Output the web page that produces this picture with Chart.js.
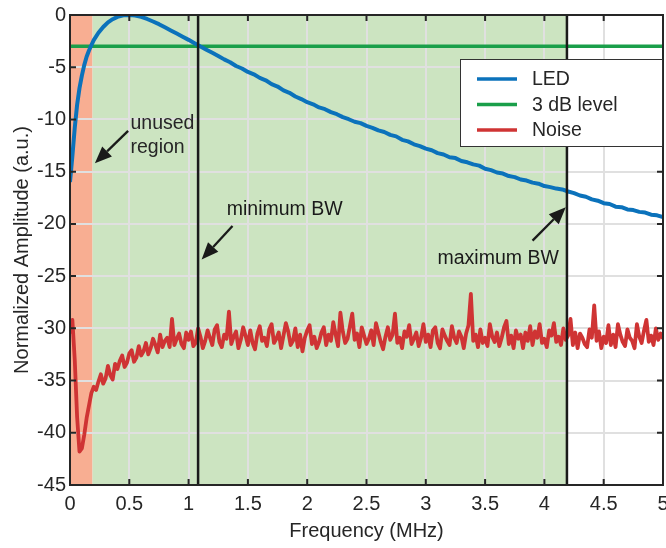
<!DOCTYPE html>
<html>
<head>
<meta charset="utf-8">
<script src="https://cdn.jsdelivr.net/npm/chart.js@4.4.0/dist/chart.umd.min.js"></script>
<style>
  html, body { margin: 0; padding: 0; background: #fff; }
  #wrap { width: 666px; height: 548px; }
</style>
</head>
<body>
<div id="wrap"><canvas id="myChart" width="666" height="548"></canvas></div>
<script>
// LED response (normalized, dB)
const ledFreq = [0, 0.02, 0.04, 0.06, 0.08, 0.10, 0.12, 0.14, 0.16, 0.18, 0.20, 0.24, 0.28, 0.32, 0.36, 0.40, 0.45, 0.50,
  0.55, 0.60, 0.65, 0.70, 0.75, 0.80, 0.85, 0.90, 0.95, 1.00, 1.05, 1.10, 1.15, 1.20, 1.25, 1.30, 1.35, 1.40, 1.45, 1.50,
  1.55, 1.60, 1.65, 1.70, 1.75, 1.80, 1.85, 1.90, 1.95, 2.00, 2.05, 2.10, 2.15, 2.20, 2.25, 2.30, 2.35, 2.40, 2.45, 2.50,
  2.55, 2.60, 2.65, 2.70, 2.75, 2.80, 2.85, 2.90, 2.95, 3.00, 3.05, 3.10, 3.15, 3.20, 3.25, 3.30, 3.35, 3.40, 3.45, 3.50,
  3.55, 3.60, 3.65, 3.70, 3.75, 3.80, 3.85, 3.90, 3.95, 4.00, 4.05, 4.10, 4.15, 4.20, 4.25, 4.30, 4.35, 4.40, 4.45, 4.50,
  4.55, 4.60, 4.65, 4.70, 4.75, 4.80, 4.85, 4.90, 4.95, 5.00];
const ledAmp = [-16.0, -13.5, -10.8, -8.6, -7.0, -5.8, -4.8, -4.0, -3.4, -2.9, -2.4, -1.7, -1.15, -0.7, -0.4, -0.18, -0.03, 0,
  -0.05, -0.18, -0.38, -0.62, -0.88, -1.18, -1.48, -1.78, -2.08, -2.38, -2.70, -3.02, -3.32, -3.62, -3.92, -4.25, -4.52, -4.88, -5.12, -5.45,
  -5.68, -6.02, -6.25, -6.62, -6.85, -7.22, -7.45, -7.80, -8.05, -8.35, -8.55, -8.85, -9.02, -9.30, -9.50, -9.78, -9.98, -10.22, -10.35, -10.62,
  -10.80, -11.05, -11.20, -11.48, -11.62, -11.95, -12.10, -12.38, -12.55, -12.80, -12.95, -13.22, -13.35, -13.62, -13.70, -13.98, -14.10, -14.30, -14.42, -14.72,
  -14.85, -15.08, -15.18, -15.42, -15.52, -15.75, -15.85, -16.05, -16.15, -16.38, -16.48, -16.62, -16.70, -16.90, -17.05, -17.28, -17.40, -17.65, -17.78, -18.02,
  -18.10, -18.35, -18.40, -18.62, -18.68, -18.85, -18.92, -19.12, -19.18, -19.35];

// noise floor, one sample every 0.02 MHz from 0 to 5 MHz
const noiseStep = 0.02;
const noiseAmp = [
  -30.5, -29.2, -33.0, -38.5, -41.8, -41.5, -40.2, -38.6, -37.4, -36.2,
  -35.6, -35.9, -35.1, -34.4, -35.3, -34.8, -33.6, -34.5, -34.9, -33.4,
  -33.9, -33.1, -32.6, -33.7, -33.3, -32.4, -32.1, -33.2, -32.8, -31.7,
  -32.6, -32.2, -31.4, -32.5, -31.9, -31.0, -31.6, -32.3, -30.6, -31.8,
  -31.2, -30.9, -31.8, -29.1, -31.6, -31.0, -30.5, -31.5, -31.9, -30.4,
  -31.1, -30.3, -31.7, -31.4, -30.0, -30.8, -31.9, -31.2, -30.2, -30.9,
  -31.6, -30.1, -29.7, -31.3, -31.8, -30.6, -31.0, -28.4, -31.5, -30.8,
  -30.3, -31.9, -31.1, -29.9, -30.7, -31.6, -30.2, -31.4, -32.0, -30.5,
  -29.8, -31.2, -30.9, -31.7, -30.1, -29.6, -31.4, -31.0, -30.4, -31.9,
  -30.7, -29.5, -30.3, -31.6, -31.2, -30.0, -31.8, -30.6, -32.2, -30.9,
  -30.2, -29.7, -31.5, -30.8, -31.9, -31.3, -30.4, -29.9, -31.6, -30.6,
  -31.2, -29.4, -30.6, -31.7, -28.5, -30.3, -31.4, -31.0, -29.8, -28.6,
  -31.1, -30.5, -31.8, -29.9, -30.7, -31.5, -31.0, -30.2, -31.6, -29.5,
  -30.4, -31.3, -32.0, -30.8, -29.9, -31.1, -30.6, -28.6, -31.4, -30.9,
  -31.9, -30.3, -30.8, -29.7, -31.5, -31.0, -30.4, -31.7, -30.9, -29.6,
  -31.3, -30.6, -31.8, -30.2, -29.9, -31.4, -31.9, -30.1, -30.7, -31.2,
  -31.6, -29.8, -30.9, -31.4, -30.3, -30.8, -31.9, -30.5, -29.7, -26.7,
  -31.2, -30.6, -31.8, -30.1, -31.4, -30.9, -31.7, -29.6, -30.8, -31.3,
  -30.4, -31.7, -30.9, -29.9, -29.3, -31.5, -30.7, -31.9, -30.2, -31.0,
  -30.6, -31.9, -30.4, -31.2, -29.8, -31.6, -30.3, -30.9, -29.6, -31.4,
  -31.0, -31.8, -30.2, -30.7, -29.5, -31.3, -30.8, -31.6, -30.0, -31.1,
  -30.7, -29.1, -31.6, -30.4, -31.9, -30.5, -30.9, -31.5, -31.8, -30.1,
  -30.9, -27.8, -31.2, -30.3, -31.9, -30.8, -31.4, -29.7, -31.6, -30.6,
  -31.8, -29.6, -30.6, -31.3, -31.7, -30.1, -30.9, -31.2, -31.9, -29.6,
  -30.8, -31.4, -30.2, -29.2, -31.3, -30.7, -31.6, -30.0, -31.1, -30.5,
  -31.0];

const levelFreq = [0, 5];
const levelAmp = [-3, -3];

const unusedEnd = 0.19;   // MHz
const minBW = 1.08;       // MHz
const maxBW = 4.19;       // MHz

const seriesNames = ['LED', '3 dB level', 'Noise'];
const seriesColors = ['#0b72bb', '#1a9f4a', '#cf3434'];

const FONT = "'Liberation Sans', Arial, Helvetica, sans-serif";
const INK = '#262626';

function pts(xs, ys) { return ys.map((y, i) => ({ x: xs[i], y: y })); }
const noisePts = noiseAmp.map((y, i) => ({ x: +(i * noiseStep).toFixed(2), y: y }));

const backdrop = {
  id: 'backdrop',
  beforeDraw(chart) {
    const { ctx, chartArea: a, scales: { x } } = chart;
    ctx.save();
    ctx.fillStyle = '#f8ae92';
    ctx.fillRect(a.left, a.top, x.getPixelForValue(unusedEnd) - a.left, a.bottom - a.top);
    ctx.fillStyle = '#cce4c1';
    ctx.fillRect(x.getPixelForValue(unusedEnd), a.top, x.getPixelForValue(maxBW) - x.getPixelForValue(unusedEnd), a.bottom - a.top);
    ctx.restore();
  }
};

function arrow(ctx, x1, y1, x2, y2) {
  const ang = Math.atan2(y2 - y1, x2 - x1);
  const hl = 17, hw = 7;
  const bx = x2 - hl * Math.cos(ang), by = y2 - hl * Math.sin(ang);
  ctx.beginPath();
  ctx.moveTo(x1, y1);
  ctx.lineTo(bx, by);
  ctx.lineWidth = 2.3;
  ctx.strokeStyle = '#1a1a1a';
  ctx.stroke();
  ctx.beginPath();
  ctx.moveTo(x2, y2);
  ctx.lineTo(bx + hw * Math.sin(ang), by - hw * Math.cos(ang));
  ctx.lineTo(bx - hw * Math.sin(ang), by + hw * Math.cos(ang));
  ctx.closePath();
  ctx.fillStyle = '#1a1a1a';
  ctx.fill();
}

const overlay = {
  id: 'overlay',
  afterDatasetsDraw(chart) {
    const { ctx, chartArea: a, scales: { x, y } } = chart;
    ctx.save();
    // bandwidth limits
    ctx.strokeStyle = '#1a1a1a';
    ctx.lineWidth = 2.5;
    [minBW, maxBW].forEach(f => {
      const px = x.getPixelForValue(f);
      ctx.beginPath(); ctx.moveTo(px, a.top); ctx.lineTo(px, a.bottom); ctx.stroke();
    });

    // frame + inward ticks
    ctx.strokeStyle = INK;
    ctx.lineWidth = 2;
    ctx.strokeRect(a.left, a.top, a.right - a.left, a.bottom - a.top);
    x.ticks.forEach(t => {
      const px = x.getPixelForValue(t.value);
      ctx.beginPath();
      ctx.moveTo(px, a.bottom); ctx.lineTo(px, a.bottom - 6);
      ctx.moveTo(px, a.top); ctx.lineTo(px, a.top + 6);
      ctx.stroke();
    });
    y.ticks.forEach(t => {
      const py = y.getPixelForValue(t.value);
      ctx.beginPath();
      ctx.moveTo(a.left, py); ctx.lineTo(a.left + 6, py);
      ctx.moveTo(a.right, py); ctx.lineTo(a.right - 6, py);
      ctx.stroke();
    });

    // annotations
    ctx.fillStyle = INK;
    ctx.font = '19.5px ' + FONT;
    ctx.textBaseline = 'middle';
    ctx.textAlign = 'left';
    ctx.fillText('unused', x.getPixelForValue(0.51), y.getPixelForValue(-10.4));
    ctx.fillText('region', x.getPixelForValue(0.51), y.getPixelForValue(-12.7));
    arrow(ctx, x.getPixelForValue(0.49), y.getPixelForValue(-11.1), x.getPixelForValue(0.21), y.getPixelForValue(-14.2));

    ctx.textAlign = 'center';
    ctx.fillText('minimum BW', x.getPixelForValue(1.81), y.getPixelForValue(-18.6));
    arrow(ctx, x.getPixelForValue(1.37), y.getPixelForValue(-20.2), x.getPixelForValue(1.11), y.getPixelForValue(-23.4));

    ctx.fillText('maximum BW', x.getPixelForValue(3.61), y.getPixelForValue(-23.3));
    arrow(ctx, x.getPixelForValue(3.90), y.getPixelForValue(-21.6), x.getPixelForValue(4.18), y.getPixelForValue(-18.4));

    // legend
    const lx = 460, ly = 59, lw = 202, lh = 87;
    ctx.fillStyle = '#ffffff';
    ctx.fillRect(lx, ly, lw, lh);
    ctx.strokeStyle = '#333333';
    ctx.lineWidth = 1;
    ctx.strokeRect(lx + 0.5, ly + 0.5, lw, lh);
    ctx.textAlign = 'left';
    seriesNames.forEach((name, i) => {
      const ry = ly + 20 + i * 25.5;
      ctx.strokeStyle = seriesColors[i];
      ctx.lineWidth = 3.5;
      ctx.beginPath(); ctx.moveTo(lx + 17, ry); ctx.lineTo(lx + 57, ry); ctx.stroke();
      ctx.fillStyle = INK;
      ctx.fillText(name, lx + 72, ry + 1);
    });
    ctx.restore();
  }
};

const ctx = document.getElementById('myChart').getContext('2d');
new Chart(ctx, {
  type: 'line',
  data: {
    datasets: [
      { label: seriesNames[2], data: noisePts, borderColor: seriesColors[2], borderWidth: 3.8, borderJoinStyle: 'round', pointRadius: 0, tension: 0, order: 3 },
      { label: seriesNames[1], data: pts(levelFreq, levelAmp), borderColor: seriesColors[1], borderWidth: 3.5, pointRadius: 0, order: 2 },
      { label: seriesNames[0], data: pts(ledFreq, ledAmp), borderColor: seriesColors[0], borderWidth: 4, borderJoinStyle: 'round', pointRadius: 0, tension: 0, order: 1 }
    ]
  },
  options: {
    responsive: false,
    animation: false,
    events: [],
    layout: { padding: { top: 15, right: 3, left: 0, bottom: 0 } },
    plugins: { legend: { display: false }, tooltip: { enabled: false } },
    scales: {
      x: {
        type: 'linear', min: 0, max: 5,
        ticks: { stepSize: 0.5, color: INK, font: { family: FONT, size: 20 }, padding: 7, maxRotation: 0, autoSkip: false,
                 callback: v => String(+v.toFixed(1)) },
        grid: { color: '#e0e0e0', lineWidth: 2, drawTicks: false },
        border: { display: false },
        title: { display: true, text: 'Frequency (MHz)', color: INK, font: { family: FONT, size: 20 }, padding: { top: 0, bottom: 5 } },
        afterFit(s) { s.height = 63; s.paddingLeft = 0; s.paddingRight = 0; }
      },
      y: {
        type: 'linear', min: -45, max: 0,
        ticks: { stepSize: 5, color: INK, font: { family: FONT, size: 20 }, padding: 4 },
        grid: { color: '#e0e0e0', lineWidth: 2, drawTicks: false },
        border: { display: false },
        title: { display: true, text: 'Normalized Amplitude (a.u.)', color: INK, font: { family: FONT, size: 20 }, padding: { top: 10, bottom: 0 } },
        afterFit(s) { s.width = 70; s.paddingTop = 0; s.paddingBottom = 0; }
      }
    }
  },
  plugins: [backdrop, overlay]
});
</script>
</body>
</html>
